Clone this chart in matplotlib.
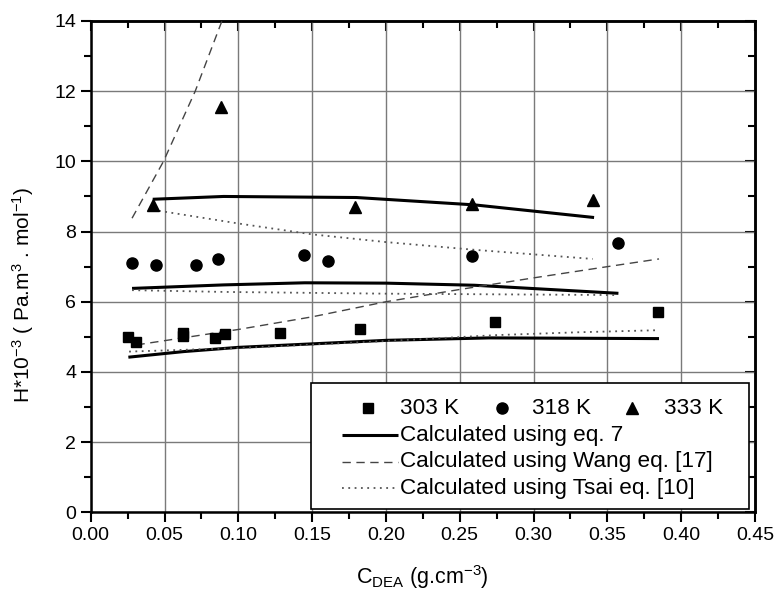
"""
Henry constant of N2O in DEA solutions vs. DEA concentration
"""
import matplotlib
matplotlib.use("Agg")
import matplotlib.pyplot as plt
from matplotlib.lines import Line2D
from matplotlib.patches import Rectangle
from matplotlib.ticker import MultipleLocator

plt.rcParams["font.family"] = ["Liberation Sans", "DejaVu Sans"]
plt.rcParams["mathtext.fontset"] = "custom"
plt.rcParams["mathtext.rm"] = "Liberation Sans"
plt.rcParams["mathtext.it"] = "Liberation Sans:italic"

# experimental points
x_303 = [0.0255, 0.031, 0.0628, 0.0628, 0.0843, 0.0911, 0.128, 0.1827, 0.2736, 0.384]
y_303 = [5.00, 4.86, 5.12, 5.02, 4.96, 5.08, 5.12, 5.22, 5.43, 5.70]
x_318 = [0.0282, 0.0441, 0.0714, 0.0859, 0.1442, 0.1608, 0.258, 0.357]
y_318 = [7.09, 7.05, 7.05, 7.21, 7.33, 7.16, 7.31, 7.68]
x_333 = [0.042, 0.0884, 0.1788, 0.2585, 0.340]
y_333 = [8.75, 11.55, 8.71, 8.78, 8.90]

# eq. 7
eq7_x_303 = [0.0255, 0.063, 0.10, 0.15, 0.20, 0.27, 0.385]
eq7_y_303 = [4.42, 4.58, 4.70, 4.80, 4.90, 4.97, 4.95]
eq7_x_318 = [0.028, 0.09, 0.145, 0.20, 0.26, 0.3575]
eq7_y_318 = [6.38, 6.48, 6.54, 6.53, 6.47, 6.24]
eq7_x_333 = [0.042, 0.09, 0.18, 0.26, 0.341]
eq7_y_333 = [8.92, 9.00, 8.97, 8.76, 8.40]

# Wang eq. [17]
wang_x_303 = [0.031, 0.10, 0.15, 0.20, 0.25, 0.30, 0.35, 0.385]
wang_y_303 = [4.77, 5.21, 5.57, 6.00, 6.35, 6.68, 7.00, 7.22]
wang_x_333 = [0.028, 0.0493, 0.0708, 0.0889]
wang_y_333 = [8.38, 10.0, 12.0, 14.0]

# Tsai eq. [10]
tsai_x_303 = [0.026, 0.10, 0.20, 0.275, 0.33, 0.385]
tsai_y_303 = [4.58, 4.68, 4.88, 5.05, 5.13, 5.19]
tsai_x_318 = [0.028, 0.09, 0.20, 0.3575]
tsai_y_318 = [6.33, 6.28, 6.23, 6.19]
tsai_x_333 = [0.042, 0.10, 0.15, 0.20, 0.26, 0.34]
tsai_y_333 = [8.62, 8.23, 7.92, 7.70, 7.48, 7.22]

fig = plt.figure(figsize=(7.78, 5.96), dpi=100)
ax = fig.add_axes([0.1166, 0.1404, 0.8538, 0.8244])

solid = dict(color="black", lw=2.2, solid_capstyle="butt")
dashed = dict(color="#444444", lw=1.0, linestyle=(0, (6, 4)))
dotted = dict(color="#555555", lw=1.3, linestyle=(0, (1, 2.5)))

for xs, ys in [(eq7_x_303, eq7_y_303), (eq7_x_318, eq7_y_318), (eq7_x_333, eq7_y_333)]:
    ax.plot(xs, ys, **solid, zorder=3)
for xs, ys in [(wang_x_303, wang_y_303), (wang_x_333, wang_y_333)]:
    ax.plot(xs, ys, **dashed, zorder=3)
for xs, ys in [(tsai_x_303, tsai_y_303), (tsai_x_318, tsai_y_318), (tsai_x_333, tsai_y_333)]:
    ax.plot(xs, ys, **dotted, zorder=3)

ax.plot(x_303, y_303, "s", color="black", ms=7, ls="none", zorder=4)
ax.plot(x_318, y_318, "o", color="black", ms=8, ls="none", zorder=4)
ax.plot(x_333, y_333, "^", color="black", ms=8.5, ls="none", zorder=4)

ax.set_xlim(0, 0.45)
ax.set_ylim(0, 14)
ax.xaxis.set_major_locator(MultipleLocator(0.05))
ax.xaxis.set_minor_locator(MultipleLocator(0.025))
ax.yaxis.set_major_locator(MultipleLocator(2))
ax.yaxis.set_minor_locator(MultipleLocator(1))
ax.xaxis.set_major_formatter(lambda v, p: f"{v:.2f}")
ax.grid(True, which="major", color="#7a7a7a", lw=1.0)
ax.set_axisbelow(True)

ax.tick_params(which="both", direction="out", top=False, right=False, labelsize=14, width=1.5)
ax.tick_params(which="major", length=7)
ax.tick_params(which="minor", length=5)
ax2 = ax.secondary_xaxis("top")
ax2.xaxis.set_major_locator(MultipleLocator(0.05))
ax2.xaxis.set_minor_locator(MultipleLocator(0.025))
ax2.tick_params(which="both", direction="in", labeltop=False, width=1.5)
ax2.tick_params(which="major", length=7)
ax2.tick_params(which="minor", length=5)
ay2 = ax.secondary_yaxis("right")
ay2.yaxis.set_major_locator(MultipleLocator(2))
ay2.yaxis.set_minor_locator(MultipleLocator(1))
ay2.tick_params(which="both", direction="in", labelright=False, width=1.5)
ay2.tick_params(which="major", length=7)
ay2.tick_params(which="minor", length=5)
for s in ax.spines.values():
    s.set_linewidth(1.8)
ax2.spines["top"].set_linewidth(1.8)
ay2.spines["right"].set_linewidth(1.8)

ax.set_xlabel(r"C$_{\mathrm{DEA}}$ (g.cm$^{-3}$)", fontsize=15.5, labelpad=14)
ax.set_ylabel(r"H*10$^{-3}$ ( Pa.m$^{3}$ . mol$^{-1}$)", fontsize=15)
ax.yaxis.set_label_coords(-0.083, 0.442)

# legend box drawn by hand to get the one-row markers layout
ax.add_patch(Rectangle((0.3316, 0.006), 0.6594, 0.2578, transform=ax.transAxes,
                       facecolor="white", edgecolor="black", lw=1.2, zorder=5))
ly = [0.2115, 0.1573, 0.103, 0.0489]
fs = 16.2
mk = [("s", 7, 0.4174, 0.4656, "303 K"), ("o", 8, 0.6187, 0.665, "318 K"),
      ("^", 8.5, 0.8153, 0.863, "333 K")]
for m, ms, mx, tx, lab in mk:
    ax.add_line(Line2D([mx], [ly[0]], marker=m, ms=ms, color="black", ls="none",
                       transform=ax.transAxes, zorder=6))
    ax.text(tx, ly[0], lab, transform=ax.transAxes, fontsize=fs, va="center", zorder=6)
labels = ["Calculated using eq. 7", "Calculated using Wang eq. [17]",
          "Calculated using Tsai eq. [10]"]
for y, st, lab in zip(ly[1:], [solid, dashed, dotted], labels):
    ax.add_line(Line2D([0.378, 0.462], [y, y], transform=ax.transAxes, zorder=6, **st))
    ax.text(0.4656, y, lab, transform=ax.transAxes, fontsize=fs, va="center", zorder=6)

plt.savefig("out.png", dpi=100)
plt.close()
